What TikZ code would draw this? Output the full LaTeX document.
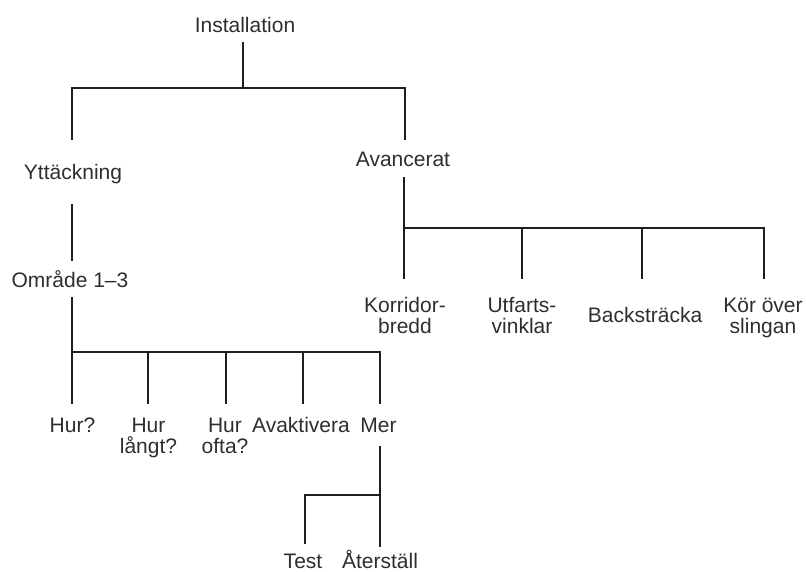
\documentclass[tikz,border=0pt]{standalone}
\usepackage{fontspec}
\setmainfont{Liberation Sans}
\begin{document}
\begin{tikzpicture}[x=1pt,y=-1pt,
  lbl/.style={inner sep=0pt,align=center,anchor=base,text=black!82,font=\fontsize{21}{21.5}\selectfont},
  tree/.style={line width=2pt,line cap=rect,draw=black!88}]
\useasboundingbox (0,0) rectangle (806,571);
% texts (positions are baselines of the last line)
\node[lbl] (inst) at (245,32) {Installation};
\node[lbl] (ytt) at (73,179) {Yttäckning};
\node[lbl] (avc) at (403,166) {Avancerat};
\node[lbl] (omr) at (70,287) {Område 1–3};
\node[lbl] (kor) at (405,333.5) {Korridor-\\bredd};
\node[lbl] (utf) at (522,333.5) {Utfarts-\\vinklar};
\node[lbl] (bac) at (645,322) {Backsträcka};
\node[lbl] (kov) at (763,333.5) {Kör över\\slingan};
\node[lbl] (hur) at (72.5,432) {Hur?};
\node[lbl] (hul) at (148.5,453.5) {Hur\\långt?};
\node[lbl] (huo) at (225,453.5) {Hur\\ofta?};
\node[lbl] (avk) at (301,432) {Avaktivera};
\node[lbl] (mer) at (378.5,432) {Mer};
\node[lbl] (tst) at (303,568) {Test};
\node[lbl] (ate) at (380,568) {Återställ};
% connector coordinates
\coordinate (i0) at (243,43);
\coordinate (i1) at (243,88);
\coordinate (iL) at (72,88);
\coordinate (iR) at (405,88);
\coordinate (yT) at (72,139);
\coordinate (aT) at (405,139);
\coordinate (a0) at (404,178);
\coordinate (a1) at (404,228);
\coordinate (aE) at (764,228);
\coordinate (b1) at (404,278);
\coordinate (u0) at (522,228);
\coordinate (u1) at (522,278);
\coordinate (c0) at (642,228);
\coordinate (c1) at (642,278);
\coordinate (k1) at (764,278);
\coordinate (y0) at (72,205);
\coordinate (y1) at (72,260);
\coordinate (o0) at (72,298);
\coordinate (o1) at (72,352);
\coordinate (oE) at (380,352);
\coordinate (h1) at (72,403);
\coordinate (l0) at (148,352);
\coordinate (l1) at (148,403);
\coordinate (f0) at (226,352);
\coordinate (f1) at (226,403);
\coordinate (v0) at (303,352);
\coordinate (v1) at (303,403);
\coordinate (m1) at (380,403);
\coordinate (m2) at (380,447);
\coordinate (mJ) at (380,495);
\coordinate (m3) at (380,546);
\coordinate (tJ) at (305,495);
\coordinate (t1) at (305,543);
% connectors
\draw[tree] (i0) -- (i1);
\draw[tree] (yT) -- (iL) -- (iR) -- (aT);
\draw[tree] (a0) -- (b1);
\draw[tree] (a1) -- (aE) -- (k1);
\draw[tree] (u0) -- (u1);
\draw[tree] (c0) -- (c1);
\draw[tree] (y0) -- (y1);
\draw[tree] (o0) -- (h1);
\draw[tree] (o1) -- (oE) -- (m1);
\draw[tree] (l0) -- (l1);
\draw[tree] (f0) -- (f1);
\draw[tree] (v0) -- (v1);
\draw[tree] (m2) -- (m3);
\draw[tree] (t1) -- (tJ) -- (mJ);
\end{tikzpicture}
\end{document}
